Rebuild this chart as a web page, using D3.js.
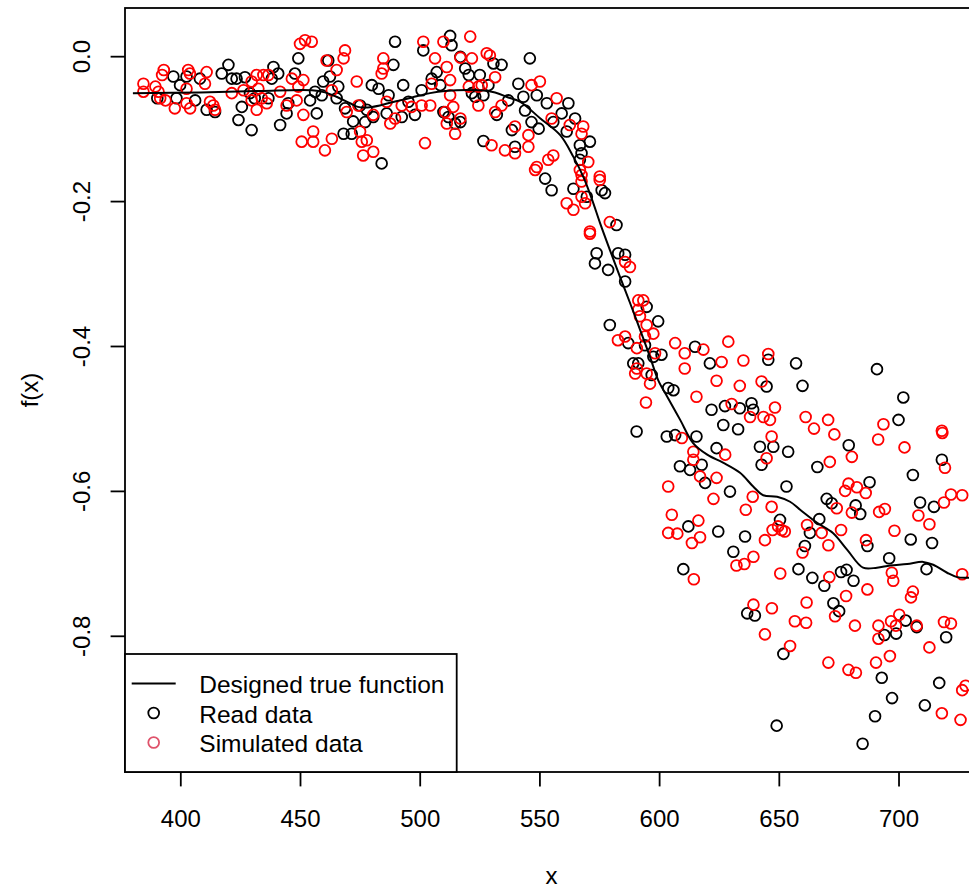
<!DOCTYPE html>
<html>
<head>
<meta charset="utf-8">
<script src="https://cdn.jsdelivr.net/npm/d3@7"></script>
<style>
  html, body { margin: 0; padding: 0; background: #fff; }
  svg { display: block; }
  text { font-family: "Liberation Sans", Arial, Helvetica, sans-serif; }
</style>
</head>
<body>
<svg id="chart" width="969" height="890"></svg>
<script>
// ---------- data ----------
const xTicks = [400, 450, 500, 550, 600, 650, 700];
const yTicks = [0, -0.2, -0.4, -0.6, -0.8];
const yTickLabels = ["0.0", "-0.2", "-0.4", "-0.6", "-0.8"];
const legendLabels = ["Designed true function", "Read data", "Simulated data"];

// Read data (black circles)
const readX = [
 397.1,390.4,399.9,402.6,398.4,406.2,408.2,411.0,414.5,417.3,420.1,421.5,423.5,427.0,425.7,424.3,429.8,429.1,431.1,436.8,
 438.9,440.9,438.2,441.7,444.4,445.1,447.9,449.3,454.2,456.3,457.0,459.7,459.1,461.8,462.5,465.3,466.0,468.8,468.2,471.6,472.2,
 489.7,501.5,512.7,513.3,489.0,480.0,482.8,487.0,493.1,475.1,477.9,477.2,480.6,486.2,492.5,495.3,498.0,500.8,505.0,507.1,
 508.6,509.9,512.0,514.8,517.0,517.0,519.0,520.5,525.1,521.8,523.2,526.6,528.7,530.8,534.2,532.2,537.0,541.2,543.3,544.0,
 546.0,548.9,546.7,549.7,538.5,526.6,539.8,484.1,
 553.1,562.1,559.3,555.8,564.9,561.4,571.1,566.9,567.6,566.9,552.4,555.1,564.2,569.8,576.0,577.4,582.2,573.9,573.2,582.9,
 585.8,578.7,585.8,594.8,599.6,579.4,587.1,594.1,597.6,601.0,589.2,591.3,596.9,603.8,606.0,615.0,
 621.2,645.6,644.9,621.9,627.5,633.7,638.6,639.3,626.8,633.0,590.6,603.2,606.7,615.6,624.0,642.1,647.7,653.9,642.8,608.7,
 612.9,617.8,619.2,629.6,653.2,650.5,612.2,624.7,635.9,631.0,
 610.1,636.8,640.0,651.9,649.1,
 657.2,659.9,691.0,702.0,700.0,679.2,666.1,718.1,706.0,687.9,670.0,672.1,682.1,684.0,709.0,714.8,666.9,663.0,660.9,687.0,
 705.1,714.0,696.1,
 658.2,664.0,669.0,676.0,678.3,681.2,672.8,675.2,711.7,703.0,694.1,699.0,707.6,719.9,693.0,717.0,697.3,711.0,690.2,685.0
];
const readY = [
 -0.028,-0.058,-0.040,-0.028,-0.058,-0.061,-0.031,-0.074,-0.077,-0.024,-0.012,-0.031,-0.031,-0.029,-0.070,-0.088,-0.102,-0.051,-0.058,-0.058,
 -0.015,-0.024,-0.031,-0.095,-0.079,-0.065,-0.024,-0.003,-0.061,-0.049,-0.079,-0.035,-0.054,-0.006,-0.028,-0.058,-0.042,-0.072,-0.107,-0.107,-0.090,
 0.020,0.008,0.028,0.015,-0.012,-0.040,-0.045,-0.054,-0.040,-0.068,-0.074,-0.091,-0.084,-0.079,-0.084,-0.063,-0.081,-0.047,-0.031,-0.022,
 -0.040,-0.077,-0.084,-0.093,-0.091,-0.001,-0.017,-0.026,-0.026,-0.051,-0.056,-0.054,-0.040,-0.010,-0.012,-0.081,-0.061,-0.038,-0.056,-0.075,
 -0.003,-0.054,-0.091,-0.100,-0.102,-0.117,-0.125,-0.148,
 -0.065,-0.065,-0.079,-0.091,-0.086,-0.104,-0.118,-0.123,-0.134,-0.143,-0.169,-0.185,-0.183,-0.194,-0.185,-0.189,-0.233,-0.272,-0.286,-0.272,
 -0.274,-0.295,-0.311,-0.346,-0.366,-0.371,-0.396,-0.399,-0.415,-0.412,-0.424,-0.424,-0.440,-0.458,-0.461,-0.401,
 -0.424,-0.419,-0.456,-0.488,-0.483,-0.486,-0.479,-0.488,-0.509,-0.515,-0.518,-0.525,-0.523,-0.525,-0.541,-0.539,-0.539,-0.546,-0.564,-0.566,
 -0.571,-0.564,-0.589,-0.601,-0.594,-0.640,-0.649,-0.656,-0.663,-0.684,
 -0.708,-0.769,-0.772,-0.825,-0.924,
 -0.424,-0.455,-0.432,-0.471,-0.502,-0.537,-0.567,-0.557,-0.578,-0.588,-0.611,-0.617,-0.620,-0.632,-0.616,-0.622,-0.639,-0.658,-0.676,-0.676,
 -0.667,-0.672,-0.693,
 -0.708,-0.720,-0.731,-0.712,-0.709,-0.724,-0.755,-0.766,-0.708,-0.779,-0.799,-0.797,-0.788,-0.802,-0.858,-0.865,-0.886,-0.896,-0.911,-0.949
];

// Simulated data (red circles)
const simX = [
 384.6,384.6,389.6,390.9,393.1,392.4,391.6,393.8,397.7,403.3,404.0,402.6,402.6,404.1,411.0,410.3,412.4,413.8,414.5,421.5,
 426.4,429.8,431.9,434.7,436.8,432.6,429.8,431.9,434.0,436.1,441.7,444.4,446.6,448.6,449.3,451.4,451.4,450.0,452.1,454.9,
 461.1,463.3,465.3,468.2,468.8,469.5,450.7,455.5,455.5,460.4,463.3,
 484.8,484.8,484.1,501.5,509.9,521.1,506.4,511.3,517.0,521.8,528.0,529.3,531.5,512.7,505.0,520.5,524.5,525.9,512.7,524.5,
 474.4,473.7,486.2,492.5,496.6,500.8,504.4,510.6,514.0,517.0,511.3,514.8,502.2,487.7,489.7,480.6,475.1,477.9,475.8,480.6,
 476.4,531.5,534.2,539.8,530.0,535.6,539.8,545.4,545.4,546.7,550.2,548.9,548.2,
 557.2,555.1,562.7,568.3,567.6,555.8,553.7,570.4,566.9,567.6,567.6,575.2,575.2,567.6,569.1,561.4,564.2,571.1,571.1,579.4,
 585.8,587.8,591.3,593.4,591.3,592.0,594.8,597.6,594.1,582.8,585.8,590.7,598.3,590.7,590.0,594.8,596.2,606.7,610.7,610.7,615.6,
 628.9,618.5,626.1,635.2,645.6,624.0,633.7,642.8,630.3,648.4,638.0,643.6,646.3,594.5,647.0,609.5,614.3,614.3,627.6,644.9,
 617.1,624.0,603.8,622.7,639.1,636.2,647.0,605.3,616.4,603.8,607.6,617.1,613.7,644.2,647.4,651.2,652.5,649.7,639.4,
 614.5,632.3,635.6,650.6,639.4,647.1,644.2,
 661.2,664.7,670.6,673.2,693.7,691.5,702.5,718.1,718.3,680.5,671.3,719.4,679.1,677.7,682.6,686.3,674.2,680.5,691.9,694.3,
 708.3,712.9,721.9,726.6,719.0,661.8,667.9,676.0,698.3,686.4,670.7,659.9,
 671.1,697.2,697.8,726.6,687.0,678.1,706.0,705.2,661.6,656.7,661.4,673.5,681.8,691.6,696.9,698.9,700.3,707.6,691.6,719.0,
 721.9,712.9,654.7,670.7,679.1,682.2,690.6,696.4,726.6,728.0,718.1,725.9
];
const simY = [
 -0.038,-0.049,-0.042,-0.049,-0.019,-0.026,-0.058,-0.061,-0.072,-0.019,-0.024,-0.045,-0.065,-0.072,-0.022,-0.038,-0.063,-0.068,-0.074,-0.051,
 -0.047,-0.035,-0.026,-0.026,-0.026,-0.045,-0.061,-0.074,-0.058,-0.065,-0.049,-0.068,-0.031,-0.061,-0.042,-0.033,-0.081,0.017,0.022,0.020,
 -0.006,-0.047,-0.019,-0.003,0.008,-0.077,-0.118,-0.104,-0.118,-0.130,-0.114,
 -0.003,-0.017,-0.024,0.020,0.020,0.027,-0.003,-0.015,-0.002,-0.003,0.004,0.001,-0.029,-0.033,-0.038,-0.042,-0.042,-0.040,-0.054,-0.068,
 -0.068,-0.035,-0.063,-0.068,-0.070,-0.068,-0.068,-0.077,-0.070,-0.086,-0.093,-0.107,-0.120,-0.093,-0.086,-0.081,-0.104,-0.116,-0.118,-0.132,
 -0.137,-0.077,-0.068,-0.097,-0.123,-0.130,-0.134,-0.109,-0.125,-0.040,-0.035,-0.153,-0.157,
 -0.058,-0.086,-0.095,-0.097,-0.107,-0.137,-0.143,-0.146,-0.157,-0.164,-0.173,-0.166,-0.171,-0.194,-0.203,-0.203,-0.212,-0.242,-0.245,-0.229,
 -0.284,-0.291,-0.337,-0.337,-0.350,-0.359,-0.371,-0.383,-0.387,-0.392,-0.387,-0.403,-0.410,-0.431,-0.438,-0.438,-0.452,-0.396,-0.410,-0.431,-0.470,
 -0.394,-0.405,-0.422,-0.420,-0.411,-0.448,-0.455,-0.449,-0.480,-0.485,-0.498,-0.498,-0.502,-0.478,-0.525,-0.527,-0.546,-0.557,-0.550,-0.555,
 -0.580,-0.582,-0.594,-0.611,-0.608,-0.626,-0.622,-0.633,-0.641,-0.658,-0.659,-0.664,-0.672,-0.668,-0.654,-0.654,-0.656,-0.649,-0.691,
 -0.722,-0.703,-0.701,-0.714,-0.757,-0.762,-0.798,
 -0.498,-0.514,-0.502,-0.522,-0.508,-0.529,-0.540,-0.517,-0.520,-0.553,-0.560,-0.568,-0.590,-0.600,-0.595,-0.603,-0.624,-0.630,-0.629,-0.625,
 -0.634,-0.646,-0.605,-0.606,-0.616,-0.647,-0.658,-0.654,-0.655,-0.668,-0.675,-0.685,
 -0.719,-0.713,-0.724,-0.715,-0.736,-0.745,-0.739,-0.747,-0.754,-0.780,-0.782,-0.773,-0.786,-0.786,-0.780,-0.786,-0.771,-0.786,-0.804,-0.781,
 -0.783,-0.816,-0.814,-0.837,-0.847,-0.851,-0.837,-0.828,-0.875,-0.869,-0.907,-0.916
];

// Designed true function (line)
const trueX = [380.2,408.2,433.3,455.0,460.4,465.9,470.9,474.2,480.1,486.8,491.8,496.8,504.3,510.6,524.4,531.5,537.0,542.0,
 550.4,558.7,564.2,568.4,572.1,575.3,579.5,583.7,587.9,592.1,596.2,599.6,603.4,608.8,614.2,620.1,626.7,633.8,639.3,643.5,
 649.3,654.7,658.9,666.0,672.6,678.5,685.2,691.0,696.5,703.6,710.3,714.5,720.3,724.5,729.5,733.2];
const trueY = [-0.051,-0.050,-0.048,-0.047,-0.050,-0.057,-0.065,-0.070,-0.070,-0.065,-0.061,-0.057,-0.051,-0.048,-0.047,-0.050,-0.057,-0.063,
 -0.086,-0.109,-0.139,-0.167,-0.199,-0.230,-0.268,-0.305,-0.341,-0.378,-0.415,-0.447,-0.470,-0.502,-0.534,-0.550,-0.561,-0.575,-0.594,-0.606,
 -0.608,-0.615,-0.626,-0.644,-0.658,-0.681,-0.706,-0.706,-0.703,-0.701,-0.698,-0.702,-0.713,-0.719,-0.720,-0.721];

// ---------- layout ----------
const plotL = 125, plotR = 978, plotT = 8, plotB = 772;
const xlim = [376.9, 733.2];
const ylim = [-0.988, 0.0665];
const FS = 24;

const svg = d3.select("#chart");
svg.append("rect").attr("width", 969).attr("height", 890).attr("fill", "#fff");

const x = d3.scaleLinear().domain(xlim).range([plotL, plotR]);
const y = d3.scaleLinear().domain(ylim).range([plotB, plotT]);

svg.append("defs").append("clipPath").attr("id", "clip")
  .append("rect").attr("x", plotL).attr("y", plotT)
  .attr("width", plotR - plotL).attr("height", plotB - plotT);

const plot = svg.append("g").attr("clip-path", "url(#clip)");

const R = 5.4, SW = 1.8;

const readData = readX.map((v, i) => ({x: v, y: readY[i]}));
const simData = simX.map((v, i) => ({x: v, y: simY[i]}));
const lineData = trueX.map((v, i) => ({x: v, y: trueY[i]}));

plot.append("g").selectAll("circle").data(readData).join("circle")
  .attr("cx", d => x(d.x)).attr("cy", d => y(d.y)).attr("r", R)
  .attr("fill", "none").attr("stroke", "#000").attr("stroke-width", SW);

plot.append("g").selectAll("circle").data(simData).join("circle")
  .attr("cx", d => x(d.x)).attr("cy", d => y(d.y)).attr("r", R)
  .attr("fill", "none").attr("stroke", "#ff0000").attr("stroke-width", SW);

plot.append("path").datum(lineData)
  .attr("fill", "none").attr("stroke", "#000").attr("stroke-width", 2)
  .attr("d", d3.line().x(d => x(d.x)).y(d => y(d.y)).curve(d3.curveCatmullRom));

// ---------- axes ----------
const xAxis = svg.append("g").attr("transform", `translate(0,${plotB})`)
  .call(d3.axisBottom(x).tickValues(xTicks).tickSize(14.4).tickFormat(d3.format("d")));
xAxis.select(".domain").remove();
xAxis.selectAll(".tick line").attr("stroke", "#000").attr("stroke-width", 1.8);
xAxis.selectAll(".tick text").attr("y", 55).attr("dy", null)
  .attr("fill", "#000").style("font-size", FS + "px").style("font-family", '"Liberation Sans", Arial, sans-serif');

const yAxis = svg.append("g").attr("transform", `translate(${plotL},0)`)
  .call(d3.axisLeft(y).tickValues(yTicks).tickSize(14.4).tickFormat((d, i) => yTickLabels[i]));
yAxis.select(".domain").remove();
yAxis.selectAll(".tick line").attr("stroke", "#000").attr("stroke-width", 1.8);
yAxis.selectAll(".tick text")
  .attr("x", null).attr("dy", null)
  .attr("text-anchor", "middle")
  .attr("transform", "translate(-35,0) rotate(-90)")
  .attr("fill", "#000").style("font-size", FS + "px").style("font-family", '"Liberation Sans", Arial, sans-serif');

// box
svg.append("rect").attr("x", plotL).attr("y", plotT)
  .attr("width", plotR - plotL).attr("height", plotB - plotT)
  .attr("fill", "none").attr("stroke", "#000").attr("stroke-width", 1.8);

// axis titles
svg.append("text").attr("x", (plotL + plotR) / 2).attr("y", 884)
  .attr("text-anchor", "middle").style("font-size", FS + "px").text("x");
svg.append("text").attr("transform", `translate(38,${(plotT + plotB) / 2}) rotate(-90)`)
  .attr("text-anchor", "middle").style("font-size", FS + "px").text("f(x)");

// ---------- legend ----------
const lg = svg.append("g");
const lgL = 125, lgT = 654, lgR = 456.7, lgB = 772;
lg.append("rect").attr("x", lgL).attr("y", lgT).attr("width", lgR - lgL).attr("height", lgB - lgT)
  .attr("fill", "#fff").attr("stroke", "#000").attr("stroke-width", 1.8);
const rowY = [683.5, 713, 742.5];
lg.append("line").attr("x1", 131.7).attr("x2", 175.7).attr("y1", rowY[0]).attr("y2", rowY[0])
  .attr("stroke", "#000").attr("stroke-width", 2);
lg.append("circle").attr("cx", 153.7).attr("cy", rowY[1]).attr("r", R)
  .attr("fill", "none").attr("stroke", "#000").attr("stroke-width", SW);
lg.append("circle").attr("cx", 153.7).attr("cy", rowY[2]).attr("r", R)
  .attr("fill", "none").attr("stroke", "#DF536B").attr("stroke-width", SW);
lg.selectAll("text.lab").data(legendLabels).join("text").attr("class", "lab")
  .attr("x", 199.3).attr("y", (d, i) => rowY[i] + 9.5)
  .style("font-size", "24.5px").text(d => d);
</script>
</body>
</html>
